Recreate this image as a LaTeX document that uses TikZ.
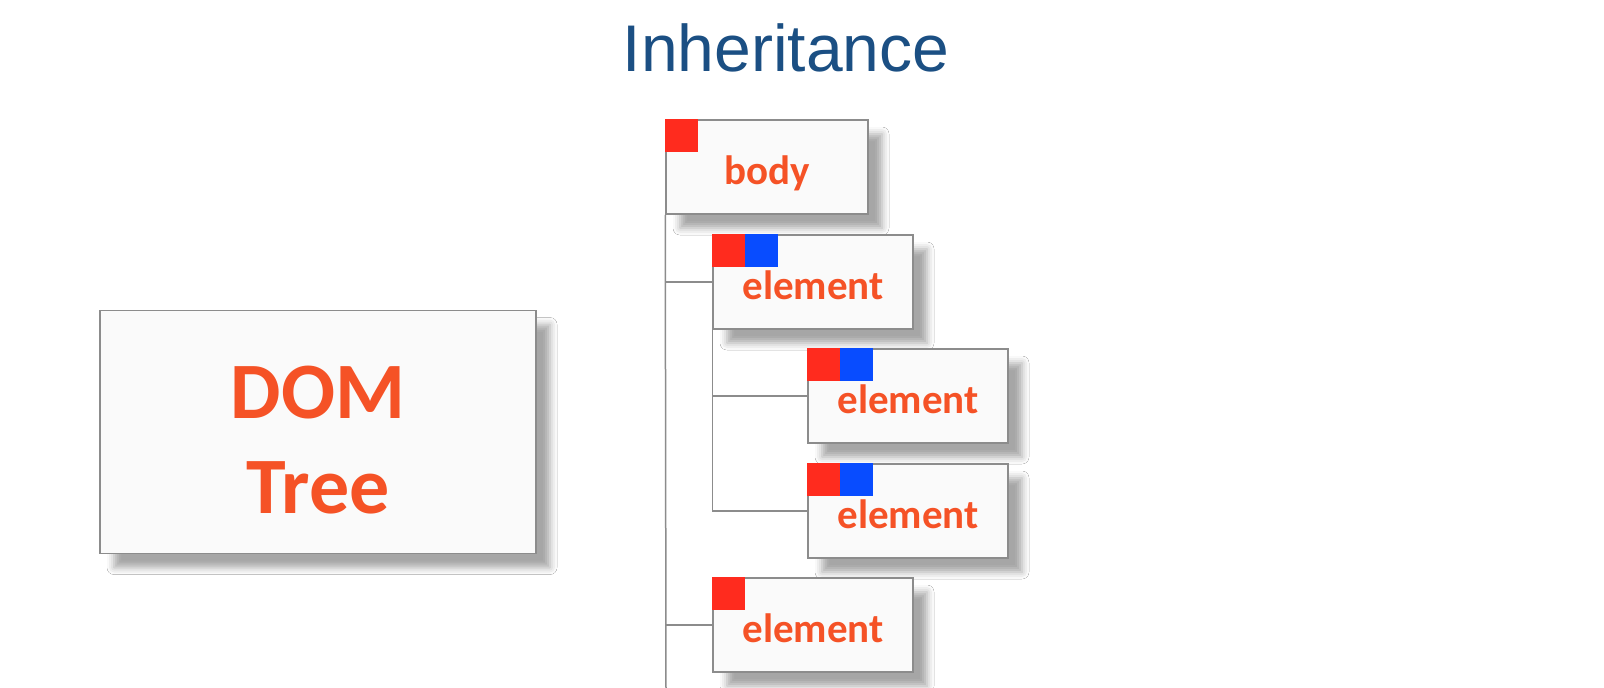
\documentclass[tikz,border=0pt]{standalone}
\usepackage{fontspec}
\setmainfont{Carlito}
\newfontfamily\titlefont{Liberation Sans}
\usetikzlibrary{shadows.blur}

\definecolor{titleblue}{RGB}{27,79,131}
\definecolor{lblorange}{RGB}{245,82,38}
\definecolor{tagred}{RGB}{255,43,30}
\definecolor{tagblue}{RGB}{8,76,255}
\definecolor{edgegray}{RGB}{140,140,140}

\begin{document}
\begin{tikzpicture}[x=1pt,y=-1pt,
    box/.style={draw=edgegray,line width=1.5pt,fill=white!98!black,
      minimum width=200pt,minimum height=94pt,inner sep=0pt,
      text height=34pt,text depth=0pt,
      font=\bfseries\fontsize{41}{48}\selectfont,text=lblorange,
      blur shadow={shadow xshift=14pt,shadow yshift=-14pt,
        shadow opacity=35,shadow blur radius=7pt}},
    bigtxt/.style={font=\bfseries\fontsize{80}{95}\selectfont,text=lblorange,inner sep=0pt},
    wire/.style={draw=edgegray,line width=1.5pt}]
    \useasboundingbox[fill=white] (0,0) rectangle (1604,688);
    \node[font=\titlefont\fontsize{66}{78}\selectfont,text=titleblue,
      anchor=base,inner sep=0pt] (title) at (786,71) {Inheritance};
    % DOM tree box
    \node[box,minimum width=436pt,minimum height=243pt] (dom) at (318,432) {};
    \node[bigtxt,anchor=base] (domlbl) at (318,418) {DOM};
    \node[bigtxt,anchor=base] (treelbl) at (318,513) {Tree};
    % tree
    \coordinate (bottom) at (666,692);
    \node[box,minimum width=202pt] (body) at (767,167) {body};
    \foreach \n/\x/\y in {elA/813/282, elB/908/396, elC/908/511, elD/813/625}{
      \node[box] (\n) at (\x,\y) {element};
    }
    \draw[wire] (body.south west) -- (bottom);
    \draw[wire] (elA.south west) -- (elA.south west |- elC.west);
    \foreach \n in {elA, elD}{
      \draw[wire] (body.south west |- \n.west) -- (\n.west);
    }
    \foreach \n in {elB, elC}{
      \draw[wire] (elA.south west |- \n.west) -- (\n.west);
    }
    \foreach \n in {body, elA, elB, elC, elD}{
      \fill[tagred] (\n.north west) rectangle ++(33,33);
    }
    \foreach \n in {elA, elB, elC}{
      \fill[tagblue] ([xshift=33pt]\n.north west) rectangle ++(33,33);
    }
\end{tikzpicture}
\end{document}
